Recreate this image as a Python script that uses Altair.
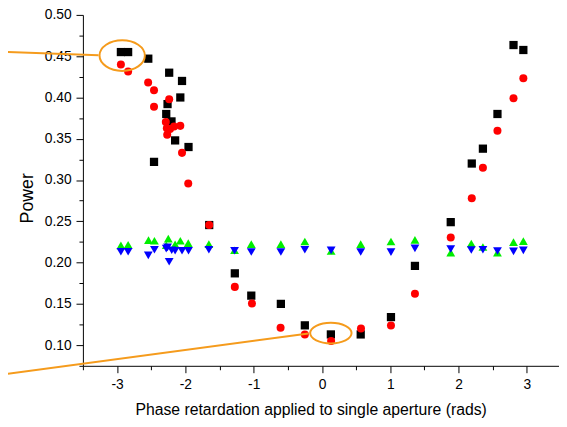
import altair as alt
import pandas as pd

# ---------------- data ----------------
black_x = [-2.944, -2.838, -2.543, -2.237, -2.049, -2.074, -2.261, -2.280, -2.203, -2.150,
           -1.954, -2.459, -1.651, -1.276, -1.035, -0.602, -0.251, 0.130, 0.567, 1.010,
           1.361, 1.885, 2.193, 2.356, 2.569, 2.804, 2.948]
black_y = [0.455, 0.455, 0.447, 0.430, 0.420, 0.400, 0.392, 0.380, 0.371, 0.348,
           0.340, 0.322, 0.2455, 0.187, 0.160, 0.150, 0.124, 0.113, 0.113, 0.134,
           0.196, 0.249, 0.320, 0.338, 0.380, 0.4635, 0.4575]

red_x = [-2.944, -2.838, -2.545, -2.459, -2.237, -2.459, -2.286, -2.271, -2.225, -2.165,
         -2.074, -2.266, -2.049, -1.958, -1.651, -1.276, -1.025, -0.606, -0.251, 0.134,
         0.571, 1.010, 1.361, 1.885, 2.193, 2.356, 2.569, 2.804, 2.948]
red_y = [0.440, 0.4316, 0.4181, 0.4086, 0.3979, 0.3887, 0.3704, 0.3628, 0.3618, 0.3648,
         0.3656, 0.3549, 0.3329, 0.2959, 0.2455, 0.1706, 0.1504, 0.1210, 0.1130, 0.1050,
         0.1202, 0.1237, 0.1623, 0.2303, 0.2780, 0.3150, 0.3597, 0.3990, 0.4233]

green_x = [-2.944, -2.838, -2.540, -2.453, -2.250, -2.280, -2.150, -2.074, -1.958, -1.656,
           -1.280, -1.035, -0.602, -0.251, 0.134, 0.567, 1.010, 1.361, 1.885, 2.186,
           2.356, 2.569, 2.804, 2.948]
green_y = [0.2208, 0.2216, 0.2272, 0.2264, 0.2291, 0.2210, 0.2220, 0.2264, 0.2236, 0.2224,
           0.2150, 0.2224, 0.2224, 0.2255, 0.2140, 0.2224, 0.2255, 0.2276, 0.2121, 0.2232,
           0.2189, 0.2121, 0.2248, 0.2260]

blue_x = [-2.944, -2.838, -2.543, -2.453, -2.280, -2.261, -2.237, -2.200, -2.150, -2.049,
          -1.954, -1.656, -1.280, -1.035, -0.602, -0.251, 0.134, 0.567, 1.010, 1.361,
          1.885, 2.186, 2.356, 2.569, 2.804, 2.948]
blue_y = [0.2132, 0.2132, 0.2088, 0.2156, 0.2170, 0.2184, 0.2010, 0.2150, 0.2144, 0.2144,
          0.2144, 0.2156, 0.2144, 0.2129, 0.2129, 0.2156, 0.2148, 0.2129, 0.2127, 0.2172,
          0.2165, 0.2153, 0.2156, 0.2141, 0.2136, 0.2148]

# orange annotation (lines and ellipses), in data units
ann_x1 = [-4.714, -4.714]
ann_y1 = [0.4555, 0.0641]
ann_x2 = [-3.271, -0.198]
ann_y2 = [0.4511, 0.1142]
ell_x = [-2.925, 0.130]
ell_y = [0.4507, 0.1146]

x_major = [-3, -2, -1, 0, 1, 2, 3]
x_minor = [-3.5, -2.5, -1.5, -0.5, 0.5, 1.5, 2.5]
y_major = [0.10, 0.15, 0.20, 0.25, 0.30, 0.35, 0.40, 0.45, 0.50]
y_minor = [0.075, 0.125, 0.175, 0.225, 0.275, 0.325, 0.375, 0.425, 0.475]

X_TITLE = "Phase retardation applied to single aperture (rads)"
Y_TITLE = "Power"

# ---------------- chart ----------------
FONT = "Liberation Sans"
ORANGE = "#f59b1c"

xsc = alt.Scale(domain=[-3.5, 3.47], nice=False, zero=False)
ysc = alt.Scale(domain=[0.075, 0.5], nice=False, zero=False)

ax_common = dict(grid=False, domainColor="black", tickColor="black", labelColor="black",
                 labelFont=FONT, labelFontSize=14, titleFont=FONT, titleColor="black",
                 titleFontWeight="normal", domainWidth=1, tickWidth=1)

x_axis_major = alt.Axis(values=x_major, orient="bottom", tickSize=7, labelPadding=5,
                        labelExpr="'' + datum.value", title=X_TITLE, titleFontSize=16,
                        titleX=231, titleY=49, titleAlign="center",
                        titleBaseline="alphabetic", **ax_common)
y_axis_major = alt.Axis(values=y_major, orient="left", tickSize=7, labelPadding=5,
                        format=".2f", title=Y_TITLE, titleFontSize=18, titleAngle=270,
                        titleX=-51, titleY=185.5, titleAlign="center",
                        titleBaseline="alphabetic", **ax_common)
x_axis_minor = alt.Axis(values=x_minor, orient="bottom", tickSize=4, labels=False,
                        domain=False, title=None, grid=False, tickColor="black", tickWidth=1)
y_axis_minor = alt.Axis(values=y_minor, orient="left", tickSize=4, labels=False,
                        domain=False, title=None, grid=False, tickColor="black", tickWidth=1)


def pts(xs, ys):
    return pd.DataFrame({"x": xs, "y": ys})


black = alt.Chart(pts(black_x, black_y)).mark_point(
    shape="square", filled=True, size=70, color="black", opacity=1, strokeWidth=0
).encode(x=alt.X("x:Q", scale=xsc, axis=x_axis_major),
         y=alt.Y("y:Q", scale=ysc, axis=y_axis_major))

red = alt.Chart(pts(red_x, red_y)).mark_point(
    shape="circle", filled=True, size=66, color="#ff0000", opacity=1, strokeWidth=0
).encode(x=alt.X("x:Q", scale=xsc, axis=x_axis_minor),
         y=alt.Y("y:Q", scale=ysc, axis=y_axis_minor))

green = alt.Chart(pts(green_x, green_y)).mark_point(
    shape="triangle-up", filled=True, size=80, color="#00ee00", opacity=1, strokeWidth=0
).encode(x=alt.X("x:Q", scale=xsc, axis=None), y=alt.Y("y:Q", scale=ysc, axis=None))

blue = alt.Chart(pts(blue_x, blue_y)).mark_point(
    shape="triangle-down", filled=True, size=80, color="#0000ff", opacity=1, strokeWidth=0
).encode(x=alt.X("x:Q", scale=xsc, axis=None), y=alt.Y("y:Q", scale=ysc, axis=None))

lines = alt.Chart(pd.DataFrame({"x": ann_x1, "y": ann_y1, "x2": ann_x2, "y2": ann_y2})).mark_rule(
    color=ORANGE, strokeWidth=2
).encode(x=alt.X("x:Q", scale=xsc, axis=None), y=alt.Y("y:Q", scale=ysc, axis=None),
         x2="x2:Q", y2="y2:Q")


def ellipse_path(k):
    c = 0.5523
    return (f"M 1 0 C 1 {c*k:.4f} {c:.4f} {k:.4f} 0 {k:.4f} "
            f"C {-c:.4f} {k:.4f} -1 {c*k:.4f} -1 0 "
            f"C -1 {-c*k:.4f} {-c:.4f} {-k:.4f} 0 {-k:.4f} "
            f"C {c:.4f} {-k:.4f} 1 {-c*k:.4f} 1 0 Z")


ell1 = alt.Chart(pts(ell_x[:1], ell_y[:1])).mark_point(
    shape=ellipse_path(0.674), size=2116, filled=False, color=ORANGE, strokeWidth=2, opacity=1
).encode(x=alt.X("x:Q", scale=xsc, axis=None), y=alt.Y("y:Q", scale=ysc, axis=None))

ell2 = alt.Chart(pts(ell_x[1:], ell_y[1:])).mark_point(
    shape=ellipse_path(0.5), size=1764, filled=False, color=ORANGE, strokeWidth=2, opacity=1
).encode(x=alt.X("x:Q", scale=xsc, axis=None), y=alt.Y("y:Q", scale=ysc, axis=None))

chart = alt.layer(black, red, green, blue, lines, ell1, ell2).resolve_axis(
    x="independent", y="independent"
).properties(
    width=483, height=356,
    autosize=alt.AutoSizeParams(type="none"),
    padding={"left": 76, "top": 4, "right": 0, "bottom": 54},
    background="white",
).configure_view(stroke=None)

chart.save("out.html", embed_options={"renderer": "svg", "actions": False})
